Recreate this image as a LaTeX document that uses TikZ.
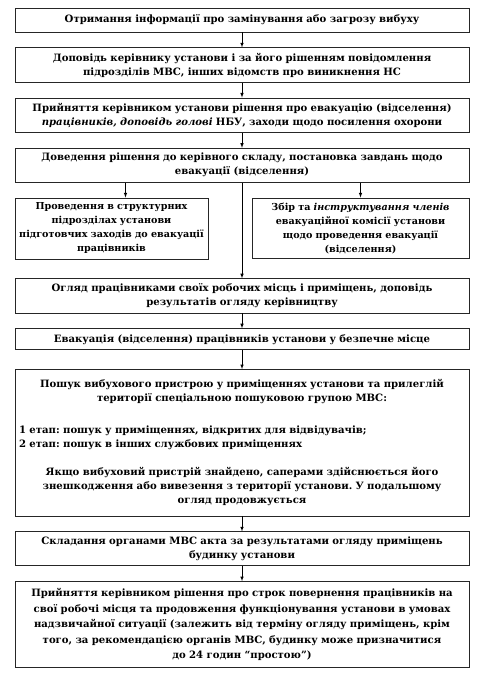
\documentclass[tikz,border=0pt]{standalone}
\usepackage{fontspec}
\setmainfont{DejaVu Serif}[BoldFont={DejaVu Serif Bold}, BoldItalicFont={DejaVu Serif Bold Italic}]
\frenchspacing
\usetikzlibrary{positioning}

\begin{document}
\begin{tikzpicture}[x=1pt,y=1pt,node distance=15pt]
    \tikzstyle{box}=[rectangle, draw=black!85, thick, text width=446pt, align=center, inner xsep=4pt, inner ysep=5pt, font=\bfseries\fontsize{10.1}{14}\selectfont]
    \tikzstyle{side}=[box, font=\bfseries\fontsize{9.6}{14}\selectfont]
    \tikzstyle{connect}=[-latex, semithick]
    \useasboundingbox (0,0) rectangle (483,-692);

      \node[box, minimum height=24pt] (info) at (242,-20) {Отримання інформації про замінування або загрозу вибуху};
      \node[box] (report) [below=of info] {Доповідь керівнику установи і за його рішенням повідомлення\\ підрозділів МВС, інших відомств про виникнення НС};
      \node[box] (decision) [below=of report] {Прийняття керівником установи рішення про евакуацію (відселення)\\ \textit{працівників, доповідь голові} НБУ, заходи щодо посилення охорони};
      \node[box] (tasks) [below=of decision] {Доведення рішення до керівного складу, постановка завдань щодо\\ евакуації (відселення)};
      \node[side, text width=185pt, anchor=north west] (prep) at ([yshift=-15pt]tasks.south west) {Проведення в структурних\\ підрозділах установи\\ підготовчих заходів до евакуації\\ працівників};
      \node[side, text width=209pt, anchor=north east] (brief) at ([yshift=-15pt]tasks.south east) {Збір та \textit{інструктування членів}\\ евакуаційної комісії установи\\ щодо проведення евакуації\\ (відселення)};
      \coordinate (mid) at (prep.south -| tasks.south);
      \node[box] (inspect) [below=19pt of mid] {Огляд працівниками своїх робочих місць і приміщень, доповідь\\ результатів огляду керівництву};
      \node[box, minimum height=21pt, inner ysep=3pt] (evac) [below=of inspect] {Евакуація (відселення) працівників установи у безпечне місце};
      \node[box, inner ysep=10pt] (search) [below=19pt of evac] {Пошук вибухового пристрою у приміщеннях установи та прилеглій\\ території спеціальною пошуковою групою МВС:\par
        \vspace{18pt}
        {\raggedright 1 етап: пошук у приміщеннях, відкритих для відвідувачів;\\ 2 етап: пошук в інших службових приміщеннях\par}
        \vspace{14pt}
        Якщо вибуховий пристрій знайдено, саперами здійснюється його\\ знешкодження або вивезення з території установи. У подальшому\\ огляд продовжується};
      \node[box] (act) [below=of search] {Складання органами МВС акта за результатами огляду приміщень\\ будинку установи};
      \node[box, inner ysep=7pt, font=\bfseries\fontsize{10.1}{15.5}\selectfont] (return) [below=of act] {Прийняття керівником рішення про строк повернення працівників на\\ свої робочі місця та продовження функціонування установи в умовах\\ надзвичайної ситуації (залежить від терміну огляду приміщень, крім\\ того, за рекомендацією органів МВС, будинку може призначитися\\ до 24 годин ``простою'')};
      \path
        (info) edge [connect] (report)
        (report) edge [connect] (decision)
        (decision) edge [connect] (tasks)
        (tasks) edge [connect] (inspect)
        (inspect) edge [connect] (evac)
        (evac) edge [connect] (search)
        (search) edge [connect] (act)
        (act) edge [connect] (return);
      \draw[connect] ([xshift=14pt]prep.north |- tasks.south) -- ([xshift=14pt]prep.north);
      \draw[connect] (brief.north |- tasks.south) -- (brief.north);
\end{tikzpicture}
\end{document}
